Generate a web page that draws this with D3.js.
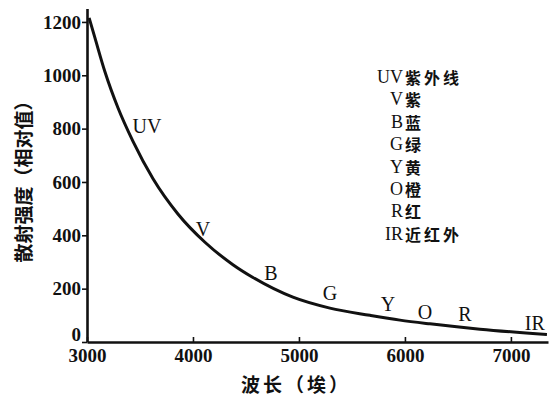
<!DOCTYPE html>
<html>
<head>
<meta charset="utf-8">
<script src="https://cdn.jsdelivr.net/npm/d3@7"></script>
<style>
  html, body { margin: 0; padding: 0; background: #fff; }
  svg { display: block; }
  .serif { font-family: "Liberation Serif", "DejaVu Serif", serif; }
  .cjk { font-family: "Noto Sans CJK SC", sans-serif; font-weight: 700; }
</style>
</head>
<body>
<svg id="chart" width="554" height="398"></svg>
<script>
// Rayleigh scattering: relative intensity against wavelength (Å)
const wavelengths = [3020, 3075, 3170, 3292, 3434, 3623, 3858, 4113, 4377, 4566, 4943, 5292, 5670, 5953, 6236, 6708, 7340];
const intensity   = [1215, 1140, 1012,  878,  752,  612,  480,  374,  290,  242,  168,  127,  100,   82,   68,   48,   28];

const xTicks = [3000, 4000, 5000, 6000, 7000];
const yTicks = [0, 200, 400, 600, 800, 1000, 1200];

// Band labels placed along the curve
const bandNames = ["UV", "V", "B", "G", "Y", "O", "R", "IR"];
const bandX     = [3566, 4094, 4736, 5292, 5840, 6189, 6566, 7226];
const bandY     = [ 810,  424,  259,  184,  142,  112,  105,   71];

// Key: letter code and Chinese name
const keyCodes = ["UV", "V", "B", "G", "Y", "O", "R", "IR"];
const keyNames = ["紫外线", "紫", "蓝", "绿", "黄", "橙", "红", "近红外"];

const svg = d3.select("#chart");
const x = d3.scaleLinear().domain([3000, 7350]).range([87, 548]);
const y = d3.scaleLinear().domain([0, 1250]).range([342, 8.6]);
const ink = "#111";
const plain = d3.format("d");

// Axes
const yAxis = svg.append("g")
  .attr("transform", `translate(${x(3000)},0)`)
  .call(d3.axisLeft(y).tickValues(yTicks).tickFormat(plain)
    .tickSizeInner(5).tickSizeOuter(0).tickPadding(1));
const xAxis = svg.append("g")
  .attr("transform", `translate(0,${y(0)})`)
  .call(d3.axisBottom(x).tickValues(xTicks).tickFormat(plain)
    .tickSizeInner(-5).tickSizeOuter(0).tickPadding(7));

[yAxis, xAxis].forEach(g => {
  g.select(".domain").attr("stroke", ink).attr("stroke-width", 2.6);
  g.selectAll(".tick line").attr("stroke", ink).attr("stroke-width", 1.6);
  g.selectAll(".tick text")
    .attr("class", "serif")
    .attr("fill", ink)
    .style("font-size", "19px")
    .style("font-weight", "700");
});
// the zero label sits just above the corner so 3000 fits beneath it
yAxis.selectAll(".tick").filter(d => d === 0).select("text").attr("y", -8);

// Curve
const line = d3.line()
  .x((d, i) => x(wavelengths[i]))
  .y((d, i) => y(intensity[i]))
  .curve(d3.curveMonotoneX);
svg.append("path")
  .datum(intensity)
  .attr("d", line)
  .attr("fill", "none")
  .attr("stroke", ink)
  .attr("stroke-width", 3);

// Band labels on the curve
svg.append("g").selectAll("text")
  .data(bandNames)
  .join("text")
  .attr("class", "serif")
  .attr("x", (d, i) => x(bandX[i]))
  .attr("y", (d, i) => y(bandY[i]))
  .attr("text-anchor", "middle")
  .attr("dominant-baseline", "central")
  .attr("fill", ink)
  .style("font-size", "20px")
  .text(d => d);

// Key
const key = svg.append("g");
const rowY = i => 77 + i * 22.4;
key.selectAll("text.code")
  .data(keyCodes)
  .join("text")
  .attr("class", "code serif")
  .attr("x", 403)
  .attr("y", (d, i) => rowY(i))
  .attr("text-anchor", "end")
  .attr("dominant-baseline", "central")
  .attr("fill", ink)
  .style("font-size", "18px")
  .text(d => d);
key.selectAll("text.name")
  .data(keyNames)
  .join("text")
  .attr("class", "name cjk")
  .attr("x", 405)
  .attr("y", (d, i) => rowY(i))
  .attr("text-anchor", "start")
  .attr("dominant-baseline", "central")
  .attr("fill", ink)
  .style("font-size", "16px")
  .style("letter-spacing", "3px")
  .text(d => d);

// Axis titles
svg.append("text")
  .attr("class", "cjk")
  .attr("transform", "translate(22,177) rotate(-90)")
  .attr("text-anchor", "middle")
  .attr("dominant-baseline", "central")
  .attr("fill", ink)
  .style("font-size", "19px")
  .text("散射强度（相对值）");
svg.append("text")
  .attr("class", "cjk")
  .attr("x", 296)
  .attr("y", 383)
  .attr("text-anchor", "middle")
  .attr("dominant-baseline", "central")
  .attr("fill", ink)
  .style("font-size", "19px")
  .style("letter-spacing", "3px")
  .text("波长（埃）");
</script>
</body>
</html>
